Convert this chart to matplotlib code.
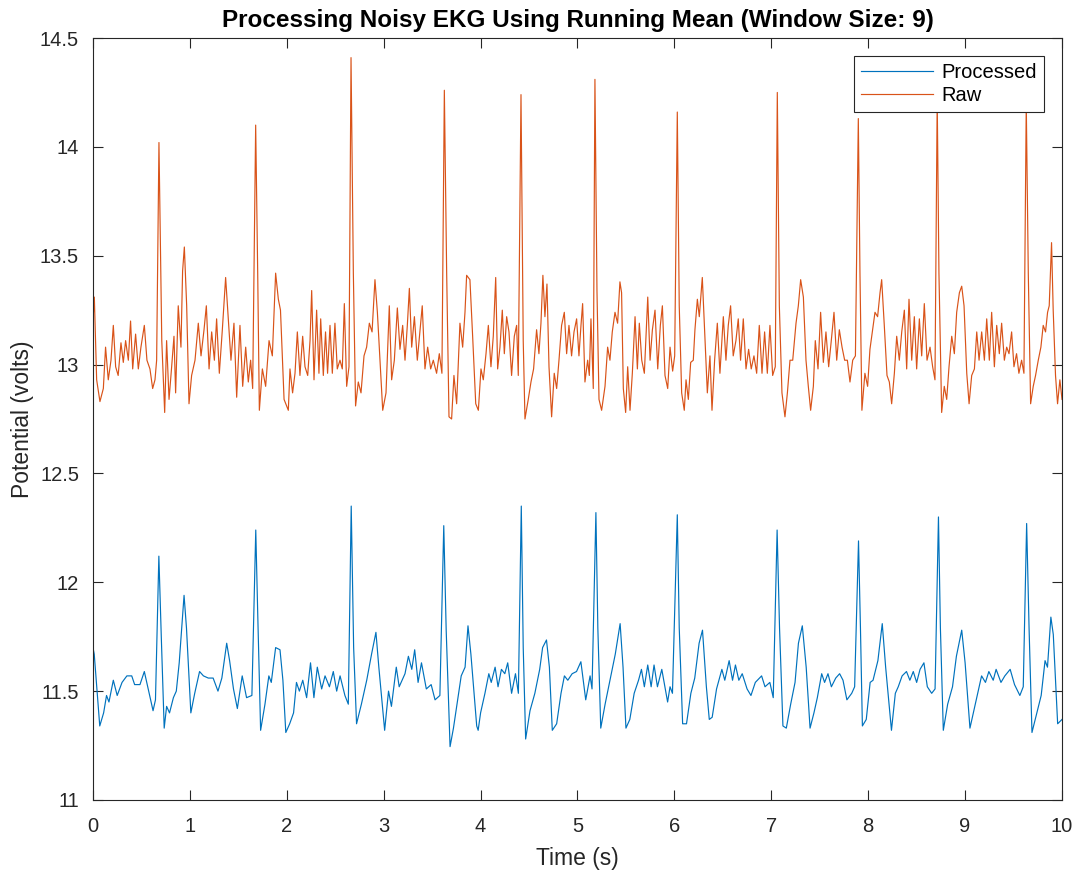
import matplotlib
matplotlib.use("Agg")
import matplotlib.pyplot as plt

# values (time in s, potential in volts)
proc_t = [0.0, 0.013, 0.07, 0.11, 0.14, 0.165, 0.21, 0.25, 0.30, 0.35, 0.40, 0.43, 0.485, 0.53, 0.57, 0.62, 0.645,
          0.68, 0.705, 0.735, 0.76, 0.79, 0.83, 0.86, 0.89, 0.94, 0.965, 1.01, 1.05, 1.10, 1.14, 1.19, 1.24,
          1.29, 1.33, 1.38, 1.41, 1.45, 1.49, 1.54, 1.585, 1.64, 1.68, 1.70, 1.73, 1.775, 1.815, 1.84, 1.885,
          1.93, 1.96, 1.99, 2.03, 2.07, 2.10, 2.13, 2.165, 2.205, 2.245, 2.28, 2.315, 2.36, 2.395, 2.44, 2.48,
          2.515, 2.55, 2.60, 2.635, 2.665, 2.69, 2.72, 2.77, 2.825, 2.875, 2.92, 2.95, 3.01, 3.05, 3.08, 3.13,
          3.16, 3.22, 3.255, 3.29, 3.32, 3.355, 3.39, 3.44, 3.49, 3.53, 3.58, 3.62, 3.645, 3.685, 3.72, 3.75,
          3.80, 3.84, 3.87, 3.90, 3.96, 3.975, 4.00, 4.045, 4.085, 4.11, 4.15, 4.18, 4.215, 4.25, 4.28, 4.32,
          4.36, 4.39, 4.42, 4.44, 4.465, 4.51, 4.56, 4.61, 4.64, 4.68, 4.71, 4.74, 4.785, 4.83, 4.865, 4.90,
          4.945, 4.99, 5.035, 5.085, 5.13, 5.15, 5.19, 5.21, 5.24, 5.285, 5.335, 5.39, 5.44, 5.47, 5.50, 5.54,
          5.585, 5.63, 5.66, 5.69, 5.725, 5.76, 5.79, 5.825, 5.87, 5.93, 5.955, 5.98, 6.03, 6.05, 6.085, 6.125,
          6.17, 6.21, 6.255, 6.29, 6.33, 6.36, 6.39, 6.435, 6.49, 6.52, 6.565, 6.60, 6.63, 6.665, 6.70, 6.75,
          6.79, 6.835, 6.90, 6.935, 6.985, 7.02, 7.06, 7.085, 7.12, 7.155, 7.20, 7.245, 7.28, 7.32, 7.36, 7.40,
          7.44, 7.475, 7.52, 7.55, 7.585, 7.62, 7.665, 7.705, 7.74, 7.78, 7.83, 7.86, 7.90, 7.92, 7.94, 7.98,
          8.02, 8.05, 8.10, 8.145, 8.18, 8.24, 8.28, 8.31, 8.35, 8.395, 8.43, 8.465, 8.50, 8.535, 8.575, 8.61,
          8.655, 8.69, 8.725, 8.745, 8.775, 8.82, 8.87, 8.91, 8.965, 9.00, 9.05, 9.085, 9.125, 9.17, 9.21, 9.245,
          9.29, 9.32, 9.37, 9.41, 9.465, 9.51, 9.565, 9.60, 9.635, 9.66, 9.69, 9.74, 9.785, 9.825, 9.85, 9.885,
          9.91, 9.955, 10.0]
proc_v = [11.70, 11.67, 11.34, 11.40, 11.48, 11.45, 11.55, 11.48, 11.54, 11.57, 11.57, 11.53, 11.53, 11.59, 11.51, 11.41, 11.46,
          12.12, 11.75, 11.33, 11.43, 11.40, 11.47, 11.50, 11.63, 11.94, 11.79, 11.40, 11.49, 11.59, 11.57, 11.56, 11.56,
          11.50, 11.56, 11.72, 11.64, 11.51, 11.42, 11.57, 11.47, 11.48, 12.24, 11.86, 11.32, 11.44, 11.57, 11.54, 11.70,
          11.69, 11.55, 11.31, 11.35, 11.40, 11.54, 11.50, 11.55, 11.47, 11.63, 11.47, 11.61, 11.51, 11.57, 11.52, 11.59,
          11.50, 11.57, 11.48, 11.44, 12.35, 11.70, 11.35, 11.44, 11.55, 11.67, 11.77, 11.61, 11.32, 11.50, 11.43, 11.61,
          11.52, 11.58, 11.66, 11.60, 11.69, 11.54, 11.63, 11.51, 11.53, 11.46, 11.48, 12.26, 11.78, 11.245, 11.33, 11.42,
          11.57, 11.61, 11.80, 11.67, 11.34, 11.32, 11.40, 11.49, 11.58, 11.54, 11.61, 11.52, 11.60, 11.58, 11.63, 11.49,
          11.58, 11.49, 12.35, 11.70, 11.28, 11.41, 11.49, 11.60, 11.70, 11.735, 11.61, 11.32, 11.35, 11.49, 11.57, 11.55,
          11.58, 11.59, 11.635, 11.46, 11.57, 11.51, 12.32, 11.79, 11.33, 11.44, 11.55, 11.67, 11.81, 11.61, 11.33, 11.37,
          11.49, 11.55, 11.60, 11.52, 11.62, 11.52, 11.62, 11.52, 11.60, 11.45, 11.52, 11.49, 12.31, 11.79, 11.35, 11.35,
          11.49, 11.56, 11.72, 11.78, 11.52, 11.37, 11.38, 11.51, 11.60, 11.55, 11.64, 11.55, 11.62, 11.55, 11.58, 11.51,
          11.48, 11.54, 11.57, 11.52, 11.54, 11.47, 12.24, 11.79, 11.34, 11.33, 11.44, 11.54, 11.72, 11.80, 11.61, 11.33,
          11.40, 11.47, 11.58, 11.54, 11.58, 11.52, 11.56, 11.58, 11.55, 11.46, 11.49, 11.52, 12.19, 11.79, 11.34, 11.37,
          11.54, 11.55, 11.64, 11.81, 11.61, 11.32, 11.49, 11.52, 11.57, 11.59, 11.55, 11.59, 11.54, 11.60, 11.63, 11.52,
          11.49, 11.51, 12.30, 11.79, 11.32, 11.44, 11.52, 11.66, 11.78, 11.63, 11.33, 11.40, 11.48, 11.57, 11.54, 11.59,
          11.55, 11.60, 11.54, 11.57, 11.60, 11.53, 11.48, 11.52, 12.27, 11.79, 11.31, 11.40, 11.48, 11.64, 11.61, 11.84,
          11.76, 11.35, 11.37]

raw_t = [0.0, 0.014, 0.038, 0.072, 0.107, 0.13, 0.158, 0.186, 0.21, 0.234, 0.26, 0.289, 0.313, 0.337, 0.365, 0.388,
         0.41, 0.44, 0.468, 0.495, 0.53, 0.557, 0.588, 0.616, 0.64, 0.657, 0.681, 0.71, 0.74, 0.76, 0.785, 0.812,
         0.836, 0.853, 0.88, 0.908, 0.925, 0.943, 0.967, 0.991, 1.018, 1.053, 1.087, 1.115, 1.146, 1.17, 1.198,
         1.225, 1.253, 1.276, 1.304, 1.335, 1.369, 1.397, 1.424, 1.455, 1.483, 1.517, 1.545, 1.576, 1.603, 1.627,
         1.648, 1.679, 1.70, 1.717, 1.748, 1.782, 1.817, 1.851, 1.885, 1.913, 1.935, 1.972, 2.016, 2.033, 2.06,
         2.085, 2.109, 2.136, 2.164, 2.188, 2.216, 2.24, 2.257, 2.281, 2.308, 2.332, 2.35, 2.377, 2.4, 2.421,
         2.446, 2.47, 2.497, 2.521, 2.549, 2.573, 2.594, 2.618, 2.642, 2.663, 2.687, 2.71, 2.738, 2.766, 2.797,
         2.824, 2.852, 2.88, 2.91, 2.935, 2.962, 2.99, 3.024, 3.058, 3.082, 3.11, 3.141, 3.168, 3.196, 3.22,
         3.244, 3.265, 3.289, 3.317, 3.347, 3.375, 3.398, 3.426, 3.454, 3.485, 3.512, 3.546, 3.574, 3.601, 3.626,
         3.65, 3.674, 3.701, 3.725, 3.753, 3.787, 3.815, 3.839, 3.856, 3.89, 3.918, 3.95, 3.977, 4.004, 4.028,
         4.056, 4.08, 4.107, 4.131, 4.156, 4.176, 4.2, 4.224, 4.245, 4.269, 4.293, 4.32, 4.348, 4.372, 4.389,
         4.417, 4.44, 4.458, 4.492, 4.52, 4.547, 4.578, 4.602, 4.623, 4.643, 4.664, 4.685, 4.706, 4.733, 4.76,
         4.785, 4.809, 4.836, 4.864, 4.888, 4.912, 4.939, 4.964, 4.991, 5.015, 5.036, 5.053, 5.077, 5.105, 5.122,
         5.139, 5.163, 5.18, 5.201, 5.222, 5.249, 5.284, 5.311, 5.335, 5.359, 5.387, 5.414, 5.438, 5.455, 5.473,
         5.497, 5.518, 5.542, 5.566, 5.594, 5.618, 5.638, 5.663, 5.69, 5.725, 5.749, 5.773, 5.8, 5.828, 5.855,
         5.876, 5.903, 5.931, 5.955, 5.982, 6.003, 6.03, 6.05, 6.075, 6.102, 6.12, 6.144, 6.168, 6.195, 6.212,
         6.237, 6.257, 6.288, 6.312, 6.34, 6.367, 6.388, 6.415, 6.443, 6.47, 6.505, 6.532, 6.556, 6.58, 6.607,
         6.635, 6.659, 6.683, 6.711, 6.739, 6.766, 6.793, 6.821, 6.849, 6.876, 6.904, 6.931, 6.959, 6.986, 7.014,
         7.041, 7.062, 7.083, 7.11, 7.141, 7.166, 7.193, 7.221, 7.255, 7.279, 7.303, 7.331, 7.358, 7.382, 7.406,
         7.434, 7.454, 7.482, 7.509, 7.537, 7.564, 7.592, 7.619, 7.647, 7.675, 7.702, 7.73, 7.757, 7.785, 7.812,
         7.84, 7.868, 7.898, 7.915, 7.935, 7.966, 7.994, 8.018, 8.042, 8.07, 8.097, 8.122, 8.139, 8.166, 8.194,
         8.218, 8.242, 8.27, 8.294, 8.321, 8.346, 8.373, 8.397, 8.421, 8.449, 8.476, 8.5, 8.528, 8.552, 8.579,
         8.607, 8.638, 8.665, 8.689, 8.712, 8.73, 8.758, 8.785, 8.81, 8.834, 8.862, 8.889, 8.913, 8.941, 8.965,
         8.989, 9.017, 9.041, 9.068, 9.096, 9.12, 9.144, 9.171, 9.199, 9.223, 9.25, 9.274, 9.302, 9.326, 9.353,
         9.377, 9.405, 9.429, 9.453, 9.48, 9.504, 9.531, 9.555, 9.583, 9.607, 9.631, 9.652, 9.676, 9.703, 9.727,
         9.755, 9.782, 9.806, 9.83, 9.851, 9.868, 9.892, 9.909, 9.933, 9.954, 9.978, 10.0]
raw_v = [13.20, 13.31, 12.93, 12.83, 12.89, 13.08, 12.93, 13.02, 13.18, 12.99, 12.95, 13.10, 13.01, 13.11, 13.02, 13.20,
         12.98, 13.14, 12.98, 13.08, 13.18, 13.02, 12.98, 12.89, 12.93, 13.02, 14.02, 13.11, 12.78, 13.11, 12.84, 12.99,
         13.13, 12.87, 13.27, 13.08, 13.43, 13.54, 13.27, 12.82, 12.95, 13.02, 13.19, 13.04, 13.16, 13.27, 12.98,
         13.15, 13.02, 13.21, 12.96, 13.16, 13.40, 13.21, 13.02, 13.19, 12.85, 13.18, 12.90, 13.08, 12.92, 13.02,
         12.89, 14.10, 13.42, 12.79, 12.98, 12.90, 13.11, 13.04, 13.42, 13.30, 13.25, 12.84, 12.79, 12.98, 12.87,
         12.96, 13.15, 12.95, 13.13, 12.99, 12.95, 13.11, 13.34, 12.93, 13.25, 12.96, 13.21, 12.95, 13.15, 12.96,
         13.18, 12.96, 13.19, 12.98, 13.02, 12.98, 13.28, 12.90, 12.99, 14.41, 13.42, 12.81, 12.92, 12.87, 13.04,
         13.08, 13.19, 13.15, 13.39, 13.24, 13.02, 12.79, 12.87, 13.27, 12.93, 13.02, 13.26, 13.07, 13.18, 13.02,
         13.18, 13.35, 13.08, 13.22, 13.02, 13.16, 13.27, 12.98, 13.08, 12.98, 13.02, 12.96, 13.05, 12.96, 14.26,
         13.42, 12.76, 12.75, 12.95, 12.82, 13.19, 13.08, 13.24, 13.41, 13.39, 13.13, 12.82, 12.79, 12.98, 12.93,
         13.05, 13.18, 12.99, 13.13, 13.40, 12.98, 13.08, 13.25, 13.05, 13.22, 13.15, 12.95, 13.13, 13.18, 12.95,
         14.24, 13.11, 12.75, 12.84, 12.92, 12.98, 13.16, 13.05, 13.19, 13.41, 13.22, 13.37, 12.99, 12.76, 12.96,
         12.89, 13.02, 13.18, 13.24, 13.05, 13.18, 13.04, 13.15, 13.21, 13.04, 13.18, 13.28, 12.92, 13.02, 12.95,
         13.21, 12.89, 14.31, 13.34, 12.84, 12.79, 12.90, 13.08, 13.02, 13.15, 13.24, 13.19, 13.38, 13.33, 12.89,
         12.78, 12.99, 12.79, 12.96, 13.22, 12.98, 13.19, 13.02, 12.96, 13.31, 13.02, 13.16, 13.25, 12.98, 13.18,
         13.27, 12.95, 12.89, 13.08, 12.97, 13.04, 14.16, 13.27, 12.87, 12.79, 12.93, 12.84, 13.01, 13.02, 13.16,
         13.30, 13.22, 13.40, 13.15, 12.87, 13.04, 12.79, 13.02, 13.19, 12.96, 13.22, 13.02, 13.18, 13.27, 13.04,
         13.11, 13.21, 13.02, 13.21, 12.98, 13.07, 12.98, 13.04, 12.96, 13.18, 12.96, 13.15, 12.96, 13.18, 12.95,
         12.99, 14.25, 13.27, 12.87, 12.76, 12.87, 13.02, 13.02, 13.19, 13.27, 13.39, 13.31, 13.02, 12.90, 12.79,
         12.90, 13.11, 12.98, 13.24, 13.01, 13.15, 12.99, 13.11, 13.24, 13.02, 13.16, 13.08, 13.02, 13.02, 12.92,
         13.02, 13.04, 14.13, 13.42, 12.79, 12.96, 12.90, 13.07, 13.15, 13.24, 13.22, 13.33, 13.39, 13.18, 12.95,
         12.92, 12.82, 12.96, 13.13, 13.02, 13.15, 13.25, 12.98, 13.30, 13.02, 13.22, 12.98, 13.21, 13.04, 13.28,
         13.02, 13.08, 12.99, 12.93, 14.22, 13.42, 12.78, 12.90, 12.84, 12.99, 13.13, 13.05, 13.24, 13.33, 13.36,
         13.27, 12.96, 12.82, 12.95, 12.98, 13.15, 13.02, 13.15, 13.02, 13.21, 13.02, 13.24, 12.99, 13.18, 13.05,
         13.19, 13.02, 13.08, 13.05, 13.15, 12.99, 13.05, 12.96, 13.02, 12.96, 14.20, 13.42, 12.82, 12.90, 12.95,
         13.02, 13.08, 13.18, 13.15, 13.24, 13.27, 13.56, 13.25, 12.95, 12.82, 12.93, 12.84]

x_ticks = [0, 1, 2, 3, 4, 5, 6, 7, 8, 9, 10]
y_ticks = [11, 11.5, 12, 12.5, 13, 13.5, 14, 14.5]

plt.rcParams['font.family'] = ['Liberation Sans', 'DejaVu Sans']

fig = plt.figure(figsize=(10.76, 8.72), dpi=100)
ax = fig.add_axes([0.0864, 0.0826, 0.9006, 0.8738])

ax.plot(proc_t, proc_v, color='#0072BD', lw=0.85, label='Processed')
ax.plot(raw_t, raw_v, color='#D95319', lw=0.85, label='Raw')

ax.set_xlim(0, 10)
ax.set_ylim(11, 14.5)
ax.set_xticks(x_ticks)
ax.set_yticks(y_ticks)
ax.set_yticklabels([('%g' % v) for v in y_ticks])

for s in ax.spines.values():
    s.set_color('#262626')
    s.set_linewidth(0.8)
ax.tick_params(direction='in', length=7, width=0.8, colors='#262626',
               labelsize=14.5, top=True, right=True)
ax.tick_params(axis='x', pad=12)
ax.tick_params(axis='y', pad=10)

ax.set_title('Processing Noisy EKG Using Running Mean (Window Size: 9)',
             fontsize=17.5, fontweight='bold', pad=8)
ax.set_xlabel('Time (s)', fontsize=16.5, color='#262626', labelpad=8)
ax.set_ylabel('Potential (volts)', fontsize=16.5, color='#262626', labelpad=4)

leg = ax.legend(loc='upper right', fontsize=14.5, handlelength=3.6, handletextpad=0.4,
                borderpad=0.35, labelspacing=0.2, borderaxespad=0.9,
                fancybox=False, framealpha=1, edgecolor='#262626')
leg.get_frame().set_linewidth(0.8)
leg.set_zorder(5)

fig.savefig('out.png', dpi=100)
